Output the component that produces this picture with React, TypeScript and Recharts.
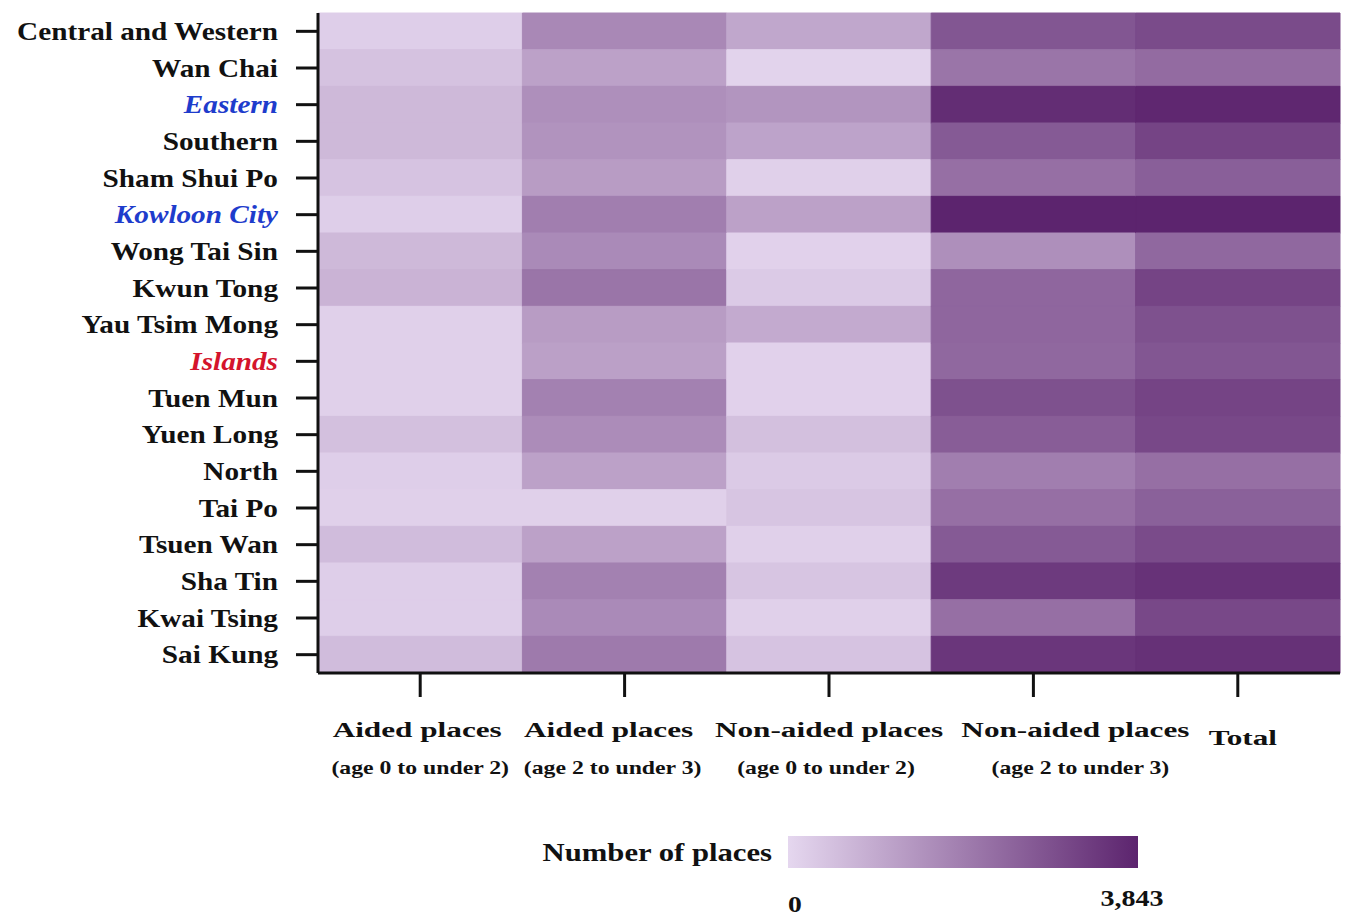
import React from "react";
import { BarChart, Bar, XAxis, YAxis, Cell } from "recharts";

const districts = [
  "Central and Western", "Wan Chai", "Eastern", "Southern", "Sham Shui Po",
  "Kowloon City", "Wong Tai Sin", "Kwun Tong", "Yau Tsim Mong", "Islands",
  "Tuen Mun", "Yuen Long", "North", "Tai Po", "Tsuen Wan", "Sha Tin",
  "Kwai Tsing", "Sai Kung",
];

const colTitles = ["Aided places", "Aided places", "Non-aided places", "Non-aided places", "Total"];
const colSubtitles = ["(age 0 to under 2)", "(age 2 to under 3)", "(age 0 to under 2)", "(age 2 to under 3)", ""];

// Estimated number of places per district
const aided0to2 = [190, 460, 650, 650, 420, 190, 650, 770, 150, 150, 150, 500, 190, 150, 580, 190, 190, 580];
const aided2to3 = [1690, 1150, 1540, 1460, 1270, 1920, 1650, 2110, 1270, 1190, 1840, 1610, 1150, 150, 1150, 1840, 1650, 2000];
const nonAided0to2 = [1040, 80, 1420, 1110, 150, 1150, 120, 270, 960, 120, 120, 500, 270, 380, 150, 380, 150, 420];
const nonAided2to3 = [2770, 2110, 3650, 2690, 2230, 3843, 1540, 2420, 2420, 2380, 2880, 2610, 1920, 2230, 2690, 3380, 2230, 3460];
const totalPlaces = [3000, 2310, 3770, 3150, 2570, 3843, 2380, 3150, 2880, 2770, 3150, 3070, 2230, 2540, 3000, 3540, 3070, 3570];

const maxValue = 3843;
const series = [aided0to2, aided2to3, nonAided0to2, nonAided2to3, totalPlaces];

const LIGHT = [229, 215, 239];
const DARK = [92, 36, 110];
const colorFor = (v: number) => {
  const t = Math.max(0, Math.min(1, v / maxValue));
  const c = LIGHT.map((l, i) => Math.round(l + (DARK[i] - l) * t));
  return `rgb(${c[0]},${c[1]},${c[2]})`;
};

const data = districts.map((d, i) => {
  const row: any = { district: d };
  series.forEach((s, j) => {
    row[`span${j}`] = 1;
    row[`val${j}`] = s[i];
  });
  return row;
});

const FONT = "'Liberation Serif', 'Times New Roman', serif";
const highlight: Record<string, { fill: string; italic: boolean }> = {
  Eastern: { fill: "#1e3ccc", italic: true },
  "Kowloon City": { fill: "#1e3ccc", italic: true },
  Islands: { fill: "#d4142c", italic: true },
};

const YTick = (props: any) => {
  const { x, y, payload } = props;
  const name = payload.value as string;
  const h = highlight[name];
  return (
    <g transform={`translate(${x},${y}) scale(1.17,1)`}>
      <text
        x={0}
        y={0}
        dy="0.35em"
        textAnchor="end"
        fontFamily={FONT}
        fontSize={25}
        fontWeight="bold"
        fontStyle={h ? "italic" : "normal"}
        fill={h ? h.fill : "#111"}
      >
        {name}
      </text>
    </g>
  );
};

const titleNudge = [-3, -16, 0, 42, 5];
const subNudge = [0, -12, -3, 47, 0];

const XTick = (props: any) => {
  const { x, y, index } = props;
  const idx = index as number;
  const title = colTitles[idx];
  const sub = colSubtitles[idx];
  return (
    <g>
      <g transform={`translate(${x + titleNudge[idx]},${y + (sub ? 40 : 48)}) scale(1.42,1)`}>
        <text x={0} y={0} textAnchor="middle" fontFamily={FONT} fontSize={22} fontWeight="bold" fill="#111">
          {title}
        </text>
      </g>
      {sub ? (
        <g transform={`translate(${x + subNudge[idx]},${y + 77}) scale(1.25,1)`}>
          <text x={0} y={0} textAnchor="middle" fontFamily={FONT} fontSize={19} fontWeight="bold" fill="#111">
            {sub}
          </text>
        </g>
      ) : null}
    </g>
  );
};

export default function App() {
  return (
    <div style={{ position: "absolute", left: 0, top: 0, width: 1346, height: 920, background: "#fff" }}>
      <BarChart
        width={1346}
        height={920}
        data={data}
        layout="vertical"
        barCategoryGap={0}
        margin={{ top: 13, right: 6, bottom: 127, left: 0 }}
      >
        <XAxis
          type="number"
          domain={[0, 5]}
          ticks={[0.5, 1.5, 2.5, 3.5, 4.5]}
          height={120}
          tick={<XTick />}
          tickSize={24}
          tickMargin={0}
          axisLine={{ stroke: "#111", strokeWidth: 3 }}
          tickLine={{ stroke: "#111", strokeWidth: 3 }}
          interval={0}
        />
        <YAxis
          type="category"
          dataKey="district"
          width={318}
          tick={<YTick />}
          tickSize={22}
          tickMargin={18}
          axisLine={{ stroke: "#111", strokeWidth: 3 }}
          tickLine={{ stroke: "#111", strokeWidth: 3 }}
          interval={0}
        />
        {series.map((s, j) => (
          <Bar key={j} dataKey={`span${j}`} stackId="heat" isAnimationActive={false}>
            {data.map((row, i) => (
              <Cell key={i} fill={colorFor(row[`val${j}`])} stroke={colorFor(row[`val${j}`])} strokeWidth={1} />
            ))}
          </Bar>
        ))}
      </BarChart>
      <svg width={1346} height={920} style={{ position: "absolute", left: 0, top: 0, pointerEvents: "none" }}>
        <defs>
          <linearGradient id="legendGrad" x1="0" y1="0" x2="1" y2="0">
            <stop offset="0%" stopColor={colorFor(0)} />
            <stop offset="100%" stopColor={colorFor(maxValue)} />
          </linearGradient>
        </defs>
        <g transform="translate(772,861) scale(1.18,1)">
          <text x={0} y={0} textAnchor="end" fontFamily={FONT} fontSize={26} fontWeight="bold" fill="#111">
            Number of places
          </text>
        </g>
        <rect x={788} y={836} width={350} height={32} fill="url(#legendGrad)" />
        <g transform="translate(795,912) scale(1.15,1)">
          <text x={0} y={0} textAnchor="middle" fontFamily={FONT} fontSize={24} fontWeight="bold" fill="#111">
            0
          </text>
        </g>
        <g transform="translate(1132,906) scale(1.17,1)">
          <text x={0} y={0} textAnchor="middle" fontFamily={FONT} fontSize={24} fontWeight="bold" fill="#111">
            3,843
          </text>
        </g>
      </svg>
    </div>
  );
}
